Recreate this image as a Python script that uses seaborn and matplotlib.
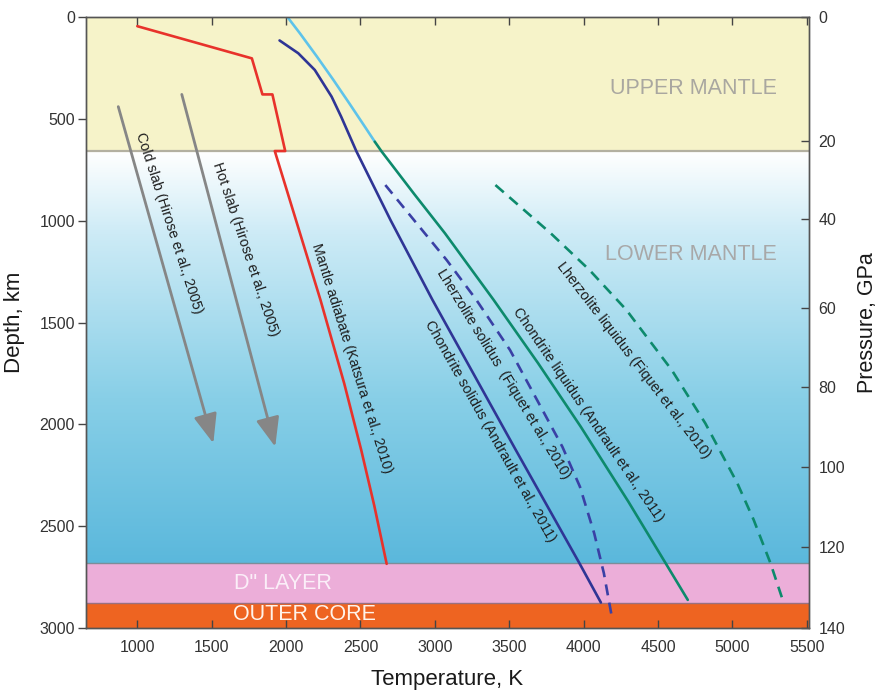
import numpy as np
import pandas as pd
import matplotlib
matplotlib.use("Agg")
import matplotlib.pyplot as plt
from matplotlib.colors import LinearSegmentedColormap
import seaborn as sns

# ---------------- data ----------------
x_ticks = [1000, 1500, 2000, 2500, 3000, 3500, 4000, 4500, 5000, 5500]
depth_ticks = [0, 500, 1000, 1500, 2000, 2500, 3000]
pressure_labels = [0, 20, 40, 60, 80, 100, 120, 140]
pressure_depths = [0, 609, 993, 1430, 1818, 2208, 2603, 3000]

layer_names = ["UPPER MANTLE", "LOWER MANTLE", 'D" LAYER', "OUTER CORE"]
layer_top = [0, 660, 2682, 2875]
layer_bottom = [660, 2682, 2875, 3000]

adiabat_T = [1000, 1770, 1841, 1908, 1994, 1924, 2231, 2391, 2505, 2593, 2676]
adiabat_D = [45, 203, 380, 380, 658, 658, 1389, 1800, 2126, 2400, 2685]

upper_liq_T = [2009, 2093, 2208, 2318, 2425, 2529, 2596]
upper_liq_D = [0, 80, 195, 309, 424, 538, 612]

chond_liq_T = [2596, 2643, 2862, 3068, 3395, 3694, 3980, 4301, 4538, 4700]
chond_liq_D = [612, 661, 870, 1062, 1389, 1700, 2011, 2380, 2666, 2862]

chond_sol_T = [1956, 2082, 2193, 2306, 2370, 2473, 2704, 2984, 3544, 3971, 4116]
chond_sol_D = [115, 178, 260, 391, 489, 660, 1000, 1389, 2126, 2681, 2875]

lherz_sol_T = [2667, 3079, 3279, 3505, 3857, 3975, 4071, 4136, 4192]
lherz_sol_D = [825, 1193, 1389, 1635, 2110, 2306, 2535, 2731, 2955]

lherz_liq_T = [3407, 3779, 4039, 4287, 4592, 4818, 5033, 5143, 5256, 5343]
lherz_liq_D = [825, 1062, 1242, 1438, 1733, 1995, 2289, 2469, 2682, 2873]

slab_names = ["Cold slab (Hirose et al., 2005)", "Hot slab (Hirose et al., 2005)"]
slab_start_T = [872, 1299]
slab_start_D = [440, 380]
slab_end_T = [1511, 1927]
slab_end_D = [2093, 2110]

# ---------------- style ----------------
sns.set_style("ticks")
plt.rcParams["font.family"] = ["Liberation Sans", "DejaVu Sans"]

fig = plt.figure(figsize=(8.81, 6.92), dpi=100)
ax = fig.add_axes([0.0976, 0.0925, 0.8207, 0.8829])
XMIN, XMAX = 655, 5515

# layers
layer_colors = ["#f6f3c9", None, "#ecaed9", "#ee6421"]
for name, top, bot, col in zip(layer_names, layer_top, layer_bottom, layer_colors):
    if col is not None:
        ax.axhspan(top, bot, color=col, zorder=0, lw=0)
cmap = LinearSegmentedColormap.from_list(
    "lm", [(0, "#ffffff"), (0.2, "#cdebf6"), (0.6, "#88cfe7"), (1.0, "#5bb8dc")])
grad = np.linspace(0, 1, 256).reshape(-1, 1)
ax.imshow(grad, extent=[XMIN, XMAX, layer_bottom[1], layer_top[1]], origin="upper",
          aspect="auto", cmap=cmap, zorder=0)
ax.axhline(layer_top[1], color="#b3b0a0", lw=1.6, zorder=1)
ax.axhline(layer_top[2], color="#7d8d99", lw=1.0, zorder=1)
ax.axhline(layer_top[3], color="#9a7080", lw=1.0, zorder=1)

LW = 1.9
navy = "#2f3595"
green = "#0d8a6c"

def line(T, D, color, dashed=False):
    df = pd.DataFrame({"T": T, "D": D})
    kw = dict(linestyle=(0, (4.2, 2.8))) if dashed else {}
    sns.lineplot(data=df, x="T", y="D", sort=False, estimator=None, ax=ax,
                 color=color, lw=LW, zorder=3, **kw)

line(adiabat_T, adiabat_D, "#e8322b")
line(upper_liq_T, upper_liq_D, "#5ec3ea")
line(chond_liq_T, chond_liq_D, green)
line(chond_sol_T, chond_sol_D, navy)
line(lherz_sol_T, lherz_sol_D, "#3a40a5", dashed=True)
line(lherz_liq_T, lherz_liq_D, green, dashed=True)

for x0, y0, x1, y1 in zip(slab_start_T, slab_start_D, slab_end_T, slab_end_D):
    ax.annotate("", xy=(x1, y1), xytext=(x0, y0),
                arrowprops=dict(arrowstyle="-|>,head_length=0.75,head_width=0.3",
                                mutation_scale=24, lw=2.0, color="#868686",
                                shrinkA=0, shrinkB=0), zorder=3)

# line labels
lab_fs = 10.3
labels = [
    (slab_names[0], 1214, 1011, -72),
    (slab_names[1], 1725, 1139, -71.5),
    ("Mantle adiabate (Katsura et al., 2010)", 2443, 1676, -72.5),
    ("Lherzolite solidus  (Fiquet et al., 2010)", 3463, 1753, -58.5),
    ("Chondrite solidus (Andrault et al., 2011)", 3373, 2032, -60.5),
    ("Chondrite liquidus (Andrault et al., 2011)", 4030, 1954, -55.6),
    ("Lherzolite liquidus (Fiquet et al., 2010)", 4338, 1684, -52.5),
]
for txt, x, y, r in labels:
    ax.text(x, y, txt, rotation=r, rotation_mode="anchor", ha="center", va="center",
            fontsize=lab_fs, color="#1e1e1e", zorder=4)

# region labels
reg_fs = 15.5
ax.text(4741, 349, layer_names[0], ha="center", va="center", fontsize=reg_fs, color="#a9a7a0")
ax.text(4720, 1168, layer_names[1], ha="center", va="center", fontsize=reg_fs, color="#a8a8a8")
ax.text(1650, 2780, layer_names[2], ha="left", va="center", fontsize=reg_fs, color="#fbeef8")
ax.text(1640, 2936, layer_names[3], ha="left", va="center", fontsize=reg_fs, color="#fff3ea")

ax.set_xlim(XMIN, XMAX)
ax.set_ylim(3000, 0)
ax.set_xticks(x_ticks)
ax.set_yticks(depth_ticks)
ax.set_xlabel("Temperature, K", fontsize=16, labelpad=10, color="#1a1a1a")
ax.set_ylabel("Depth, km", fontsize=16, labelpad=10, color="#1a1a1a")
ax.tick_params(axis="x", direction="in", top=True, bottom=True, length=6, width=1,
               color="#444444", labelsize=11.5, pad=9, labelcolor="#333333")
ax.tick_params(axis="y", direction="out", left=True, length=6, width=1,
               color="#444444", labelsize=11.5, pad=2, labelcolor="#333333")

ax2 = ax.twinx()
ax2.set_ylim(3000, 0)
ax2.set_yticks(pressure_depths)
ax2.set_yticklabels([str(p) for p in pressure_labels])
ax2.tick_params(axis="y", direction="in", right=True, length=6, width=1,
                color="#444444", labelsize=11.5, pad=7, labelcolor="#333333")
ax2.set_ylabel("Pressure, GPa", fontsize=15.5, labelpad=8, color="#1a1a1a")

for a in (ax, ax2):
    for s in a.spines.values():
        s.set_color("#555555")
        s.set_linewidth(1.0)
        s.set_zorder(5)

fig.savefig("out.png", dpi=100)
